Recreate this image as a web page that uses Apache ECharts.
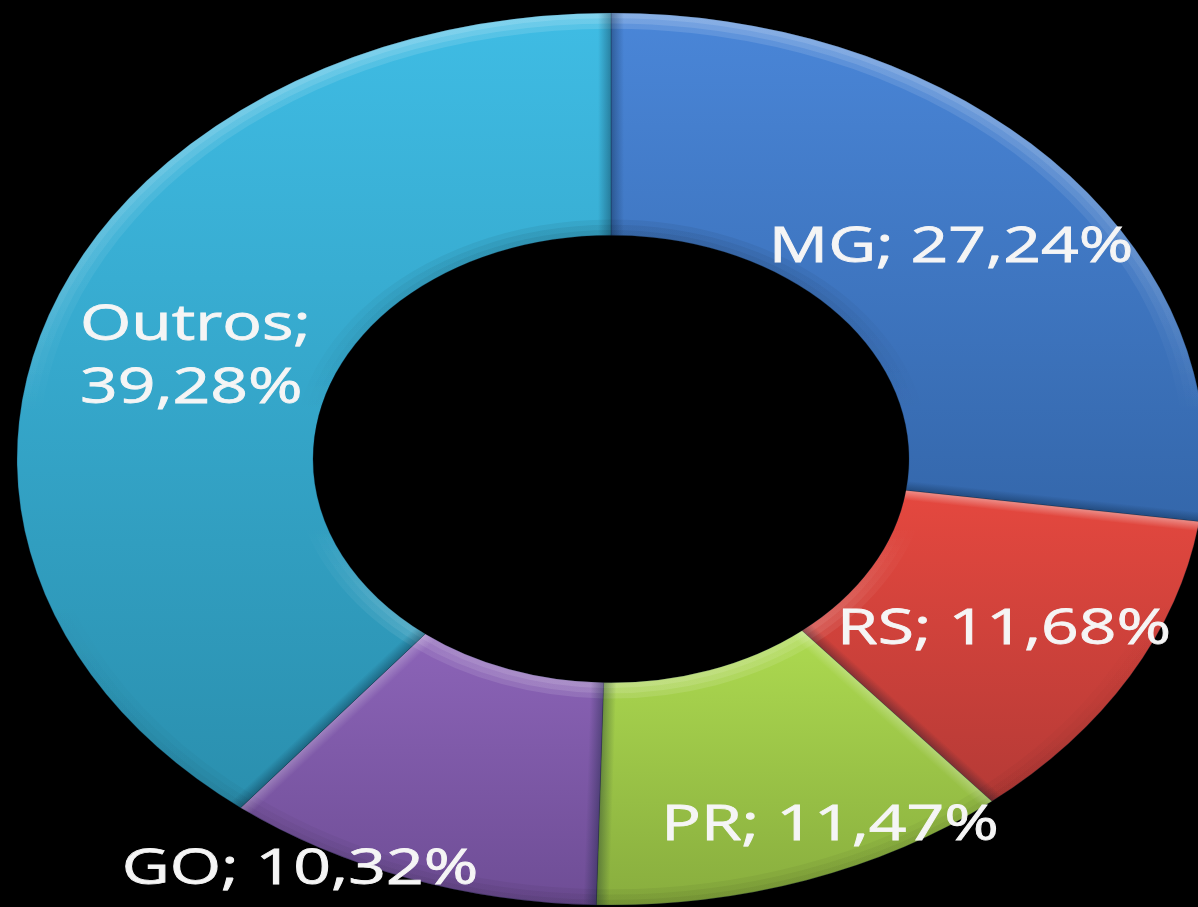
<!DOCTYPE html>
<html lang="pt">
<head>
    <meta charset="UTF-8">
    <title>Participação por estado</title>
    <script src="https://cdn.jsdelivr.net/npm/echarts@6/dist/echarts.min.js"></script>
    <style>
        html, body { margin: 0; padding: 0; background: #000; }
        #chart { width: 1198px; height: 907px; }
    </style>
</head>
<body>
    <div id="chart"></div>
    <script type="text/javascript">
        var categories = ['MG', 'RS', 'PR', 'GO', 'Outros'];
        var shares = [27.24, 11.68, 11.47, 10.32, 39.28];
        var topColors = ['#4a86d8', '#e5483f', '#adda50', '#8c64b8', '#3fbce4'];
        var bottomColors = ['#3467ab', '#b53a36', '#88ad3e', '#6e4d95', '#2a8fae'];

        // label anchors in page pixels
        var labelX = [951, 1004, 830, 300, 80];
        var labelY = [248, 630, 826, 870, 357];

        var cx = 611, cy = 459;
        var outerR = 594, innerR = 298, squash = 0.751;
        var bevel = 13;
        var stretch = 1.32;

        var total = shares.reduce(function (a, b) { return a + b; }, 0);
        var starts = [];
        var sum = 0;
        for (var i = 0; i < shares.length; i++) {
            starts.push(sum / total * Math.PI * 2 - Math.PI / 2);
            sum += shares[i];
        }

        function labelText(i) {
            var val = shares[i].toFixed(2).replace('.', ',') + '%';
            return categories[i] + (categories[i] == 'Outros' ? ';\n' : '; ') + val;
        }

        // strip along one radial side: lit when its outer face looks up, dark otherwise
        function radialEdge(angle, side) {
            var nx = -Math.sin(angle) * side, ny = Math.cos(angle) * side;
            var lit = ny > 0.3;
            var a = lit ? ny * 0.38 : 0.34;
            var c = lit ? '255,255,255,' : '0,20,40,';
            var ux = Math.cos(angle), uy = Math.sin(angle);
            var pts = [
                [ux * innerR, uy * innerR],
                [ux * outerR, uy * outerR],
                [ux * outerR + nx * bevel, uy * outerR + ny * bevel],
                [ux * innerR + nx * bevel, uy * innerR + ny * bevel]
            ];
            return {
                type: 'polygon',
                shape: { points: pts },
                style: {
                    fill: {
                        type: 'linear', x: pts[0][0], y: pts[0][1],
                        x2: pts[0][0] + nx * bevel, y2: pts[0][1] + ny * bevel, global: true,
                        colorStops: [
                            { offset: 0, color: 'rgba(' + c + a + ')' },
                            { offset: 1, color: 'rgba(' + c + '0)' }
                        ]
                    }
                }
            };
        }

        // a ring piece tinted by height, stacked a few times to get a soft edge
        function rim(from, to, r, r0, span, stops) {
            return {
                type: 'sector',
                shape: { cx: 0, cy: 0, r: r, r0: r0, startAngle: from, endAngle: to },
                style: {
                    fill: {
                        type: 'linear', x: 0, y: -span, x2: 0, y2: span, global: true,
                        colorStops: stops
                    }
                }
            };
        }

        var outerStops = [
            { offset: 0, color: 'rgba(255,255,255,0.13)' },
            { offset: 0.3, color: 'rgba(255,255,255,0.06)' },
            { offset: 0.45, color: 'rgba(255,255,255,0)' },
            { offset: 0.65, color: 'rgba(0,0,0,0)' },
            { offset: 1, color: 'rgba(0,0,0,0.05)' }
        ];
        var innerStops = [
            { offset: 0, color: 'rgba(0,0,0,0.06)' },
            { offset: 0.4, color: 'rgba(0,0,0,0)' },
            { offset: 0.65, color: 'rgba(255,255,255,0)' },
            { offset: 1, color: 'rgba(255,255,255,0.11)' }
        ];

        function renderSlice(params) {
            var i = params.dataIndex;
            var from = starts[i];
            var to = i + 1 < starts.length ? starts[i + 1] : Math.PI * 1.5;
            var children = [{
                type: 'sector',
                shape: { cx: 0, cy: 0, r: outerR, r0: innerR, startAngle: from, endAngle: to },
                style: {
                    fill: {
                        type: 'linear', x: 0, y: 0, x2: 0, y2: 1,
                        colorStops: [
                            { offset: 0, color: topColors[i] },
                            { offset: 1, color: bottomColors[i] }
                        ]
                    },
                    stroke: 'rgba(10,30,50,0.3)',
                    lineWidth: 1
                }
            }];
            for (var k = 1; k <= 3; k++) {
                children.push(rim(from, to, outerR, outerR - k * 7, outerR, outerStops));
                children.push(rim(from, to, innerR + k * 7, innerR, innerR, innerStops));
            }
            children.push(radialEdge(from, 1), radialEdge(to, -1));
            return { type: 'group', x: cx, y: cy, scaleY: squash, children: children };
        }

        function renderLabel(params) {
            var i = params.dataIndex;
            return {
                type: 'text',
                x: labelX[i],
                y: labelY[i],
                scaleX: stretch,
                style: {
                    text: labelText(i),
                    fill: '#f5f5f5',
                    stroke: '#f5f5f5',
                    lineWidth: 0.8,
                    font: '400 50px "Open Sans"',
                    lineHeight: 63,
                    align: i == 4 ? 'left' : 'center',
                    verticalAlign: 'middle',
                    shadowBlur: 2,
                    shadowColor: 'rgba(255,255,255,0.5)'
                }
            };
        }

        var myChart = echarts.init(document.getElementById('chart'));
        var option = {
            backgroundColor: '#000',
            animation: false,
            series: [
                {
                    type: 'custom',
                    name: 'fatias',
                    coordinateSystem: 'none',
                    silent: true,
                    z: 1,
                    data: shares,
                    renderItem: renderSlice
                },
                {
                    type: 'custom',
                    name: 'rotulos',
                    coordinateSystem: 'none',
                    silent: true,
                    z: 2,
                    data: shares,
                    renderItem: renderLabel
                }
            ]
        };
        myChart.setOption(option);
    </script>
</body>
</html>
